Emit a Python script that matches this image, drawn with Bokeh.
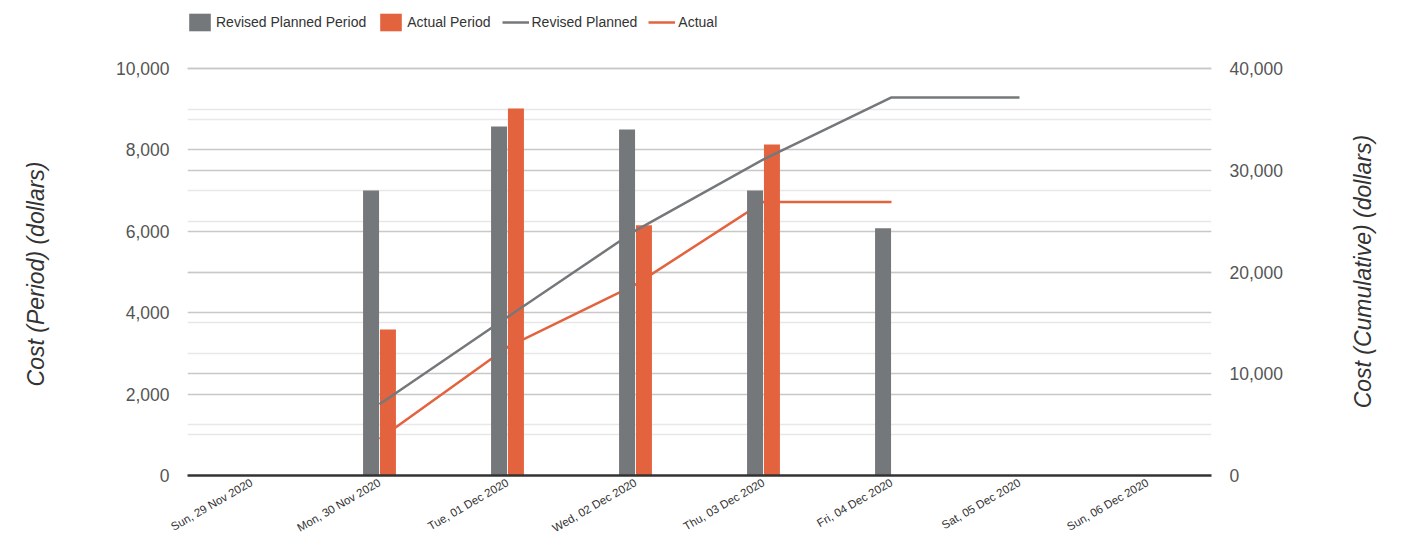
import math
from bokeh.plotting import figure
from bokeh.layouts import row
from bokeh.models import (FactorRange, Range1d, LinearAxis, Grid, FixedTicker,
                          NumeralTickFormatter, Legend, LegendItem, ColumnDataSource)
from bokeh.core.properties import value
from bokeh.transform import dodge
from bokeh.embed import file_html
from bokeh.resources import INLINE

dates = ["Sun, 29 Nov 2020", "Mon, 30 Nov 2020", "Tue, 01 Dec 2020", "Wed, 02 Dec 2020",
         "Thu, 03 Dec 2020", "Fri, 04 Dec 2020", "Sat, 05 Dec 2020", "Sun, 06 Dec 2020"]
planned_period = [0, 7000, 8575, 8500, 7000, 6075, 0, 0]
actual_period = [0, 3590, 9020, 6150, 8130, 0, 0, 0]

planned_dates = ["Mon, 30 Nov 2020", "Tue, 01 Dec 2020", "Wed, 02 Dec 2020",
                 "Thu, 03 Dec 2020", "Fri, 04 Dec 2020", "Sat, 05 Dec 2020"]
planned_cum = [7000, 15575, 24075, 31075, 37150, 37150]
actual_dates = ["Mon, 30 Nov 2020", "Tue, 01 Dec 2020", "Wed, 02 Dec 2020",
                "Thu, 03 Dec 2020", "Fri, 04 Dec 2020"]
actual_cum = [3590, 12610, 18760, 26890, 26890]

left_ticks = [0, 2000, 4000, 6000, 8000, 10000]
left_minor = [1000, 3000, 5000, 7000, 9000]
right_ticks = [0, 10000, 20000, 30000, 40000]
right_minor = [5000, 15000, 25000, 35000]

left_title = "Cost (Period) (dollars)"
right_title = ["Cost (Cumulative) (dollars)"]

GRAY = "#75787b"
ORANGE = "#e4633f"
TXT = "#555555"

# layout: frame spans from y=8 to y=475 so the legend can sit inside it;
# the value ranges are stretched so 10,000 / 40,000 land at y=68
TOP, ZERO, TEN_K = 8, 475, 68
stretch = (ZERO - TOP) / (ZERO - TEN_K)
left_end = 10000 * stretch
right_end = 40000 * stretch

MAIN_W = 1286
H = 544

bar_src = ColumnDataSource(dict(date=dates, planned=planned_period, actual=actual_period))
pc_src = ColumnDataSource(dict(date=planned_dates, cum=planned_cum))
ac_src = ColumnDataSource(dict(date=actual_dates, cum=actual_cum))

p = figure(x_range=FactorRange(*dates), y_range=Range1d(0, left_end),
           width=MAIN_W, height=H, output_backend="svg", toolbar_location=None,
           min_border_left=187, min_border_right=MAIN_W - 187 - 1024, min_border_top=TOP,
           min_border_bottom=H - ZERO)
p.outline_line_color = None
p.extra_y_ranges = {"right": Range1d(0, right_end)}

# render order: actual line, actual bars, revised line, revised bars
r_al = p.line(x="date", y="cum", source=ac_src, y_range_name="right",
              line_color=ORANGE, line_width=2.5)
r_ab = p.vbar(x=dodge("date", 0.066, range=p.x_range), top="actual", width=0.125,
              source=bar_src, fill_color=ORANGE, line_color=None)
r_pl = p.line(x="date", y="cum", source=pc_src, y_range_name="right",
              line_color=GRAY, line_width=2.5)
r_pb = p.vbar(x=dodge("date", -0.066, range=p.x_range), top="planned", width=0.125,
              source=bar_src, fill_color=GRAY, line_color=None)

# grids
p.xgrid.visible = False
g = p.ygrid[0]
g.ticker = FixedTicker(ticks=left_ticks, minor_ticks=left_minor)
g.grid_line_color = "#c8c8c8"
g.grid_line_width = 1.5
g.minor_grid_line_color = "#e8e8e8"
g.minor_grid_line_width = 1.5
g2 = Grid(dimension=1, y_range_name="right",
          ticker=FixedTicker(ticks=right_ticks, minor_ticks=right_minor),
          grid_line_color="#c8c8c8", grid_line_width=1.5,
          minor_grid_line_color="#e8e8e8", minor_grid_line_width=1.5)
p.add_layout(g2, "center")

# x axis
xa = p.xaxis[0]
xa.axis_line_color = "#333333"
xa.axis_line_width = 2.5
xa.major_tick_line_color = None
xa.minor_tick_line_color = None
xa.major_label_orientation = math.radians(30)
xa.major_label_text_font = "Liberation Sans"
xa.major_label_text_font_size = "11.5px"
xa.major_label_text_color = "#333333"
xa.major_label_standoff = 0
xa.axis_label_standoff = 0

NB = "\u00a0"

# left axis
ya = p.yaxis[0]
ya.ticker = FixedTicker(ticks=left_ticks)
ya.formatter = NumeralTickFormatter(format="0,0")
ya.axis_line_color = None
ya.major_tick_line_color = None
ya.minor_tick_line_color = None
ya.major_label_text_font = "Liberation Sans"
ya.major_label_text_font_size = "17.5px"
ya.major_label_text_color = TXT
ya.major_label_standoff = 12
ya.axis_label = left_title + NB * 10
ya.axis_label_text_font = "Liberation Sans"
ya.axis_label_text_font_style = "italic"
ya.axis_label_text_font_size = "23px"
ya.axis_label_text_color = "#333333"
ya.axis_label_standoff = 64

ra = LinearAxis(y_range_name="right", ticker=FixedTicker(ticks=right_ticks),
                formatter=NumeralTickFormatter(format="0,0"))
ra.axis_line_color = None
ra.major_tick_line_color = None
ra.minor_tick_line_color = None
ra.major_label_text_font = "Liberation Sans"
ra.major_label_text_font_size = "17.5px"
ra.major_label_text_color = TXT
ra.major_label_standoff = 12
p.add_layout(ra, "right")

legend = Legend(items=[
    LegendItem(label="Revised Planned Period", renderers=[r_pb]),
    LegendItem(label="Actual Period", renderers=[r_ab]),
    LegendItem(label="Revised Planned", renderers=[r_pl]),
    LegendItem(label="Actual", renderers=[r_al]),
], orientation="horizontal", location=(-1, ZERO - 33),
    glyph_width=27, glyph_height=22, label_standoff=3, spacing=11,
    padding=0, margin=0, border_line_color=None, background_fill_alpha=0,
    label_text_font="Liberation Sans", label_text_font_size="14px",
    label_text_color="#333333")
p.add_layout(legend, "center")

# right-hand title panel (text reading upwards, centred on the plot frame)
LAB_W = 114
lab_x = 1362 - MAIN_W
lab_y = (ZERO + TEN_K) / 2 + 35
q = figure(width=LAB_W, height=H, output_backend="svg", toolbar_location=None,
           x_axis_type=None, y_axis_type=None,
           min_border_left=0, min_border_right=0, min_border_top=0, min_border_bottom=0,
           x_range=Range1d(-lab_x, LAB_W - lab_x), y_range=Range1d(-(H - lab_y), lab_y))
q.outline_line_color = None
q.grid.visible = False
q.text(x=[0], y=[0], text=right_title, angle=math.pi / 2,
       text_align="center", text_baseline="middle",
       text_font=value("Liberation Sans"), text_font_style="italic",
       text_font_size="23px", text_color="#333333")

layout = row(p, q)
open("out.html", "w").write(file_html(layout, INLINE))
